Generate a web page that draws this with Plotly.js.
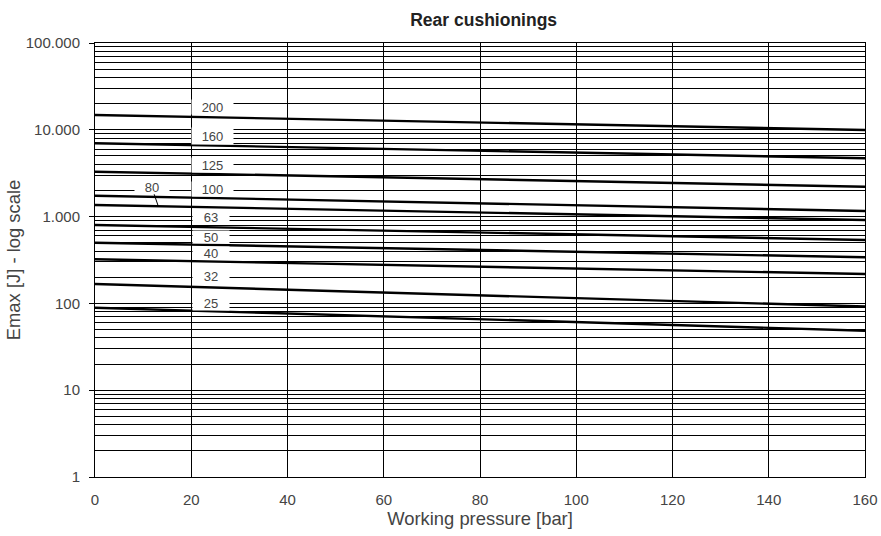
<!DOCTYPE html>
<html><head><meta charset="utf-8">
<script src="https://cdn.plot.ly/plotly-3.0.1.min.js"></script>
<style>html,body{margin:0;padding:0;background:#fff}#c{width:881px;height:536px}</style>
</head><body><div id="c"></div>
<script>
// Data
const pressure = [0, 160];
const seriesNames = ["200","160","125","100","80","63","50","40","32","25"];
const e200 = [14800, 9950];
const e160 = [7000, 4700];
const e125 = [3290, 2210];
const e100 = [1740, 1160];
const e80  = [1360, 914];
const e63  = [800, 537];
const e50  = [500, 340];
const e40  = [322, 218];
const e32  = [167, 92];
const e25  = [89, 48.5];
const seriesValues = [e200,e160,e125,e100,e80,e63,e50,e40,e32,e25];
const xTicks = [0,20,40,60,80,100,120,140,160];
const yTickVals = [1,10,100,1000,10000,100000];
const yTickText = ["1","10","100","1.000","10.000","100.000"];

const traces = seriesValues.map((v,i)=>({
  x: pressure, y: v, type:'scatter', mode:'lines', name: seriesNames[i],
  line:{color:'#000', width:2.4}, hoverinfo:'skip'
}));

// minor gridline positions (2..9 per decade)
const minorVals = [];
for (let d=0; d<5; d++) for (let k=2; k<=9; k++) minorVals.push(k*Math.pow(10,d));

// label placement (log10 y for annotations on log axis): [x, log10(y), boxWidth, boxHeight]
const labelPos = {
  "200":[24.5,4.266,41,14], "160":[24.5,3.929,41,16], "125":[24.5,3.594,41,14], "100":[24.5,3.318,41,14],
  "63":[24.0,2.992,36,13], "50":[24.0,2.768,36,12], "40":[24.0,2.577,36,12], "32":[24.0,2.316,36,14], "25":[24.0,2.008,36,14]
};
const annFont = {family:'Liberation Sans, Arial, sans-serif', size:13, color:'#444'};
const annotations = [];
seriesNames.forEach(n=>{
  const p = labelPos[n];
  if (!p) return;
  annotations.push({x:p[0], y:p[1], xref:'x', yref:'y', text:n,
    showarrow:false, bgcolor:'#fff', width:p[2], height:p[3], borderpad:0, font:annFont});
});
// "80" label with leader line pointing to its curve
const i80 = seriesNames.indexOf("80");
const xa = 13.15;
const v80 = seriesValues[i80];
const ya = Math.log10(v80[0]) + (Math.log10(v80[1])-Math.log10(v80[0]))*(xa-pressure[0])/(pressure[1]-pressure[0]);
annotations.push({x:xa, y:ya, xref:'x', yref:'y', text:"80", showarrow:true, arrowhead:0,
  arrowwidth:1, arrowcolor:'#000', ax:-6.5, ay:-19, standoff:0, startstandoff:0,
  bgcolor:'#fff', width:34, height:13, borderpad:0, font:annFont});

const layout = {
  width:881, height:536,
  margin:{l:95, r:16, t:43, b:59},
  paper_bgcolor:'#fff', plot_bgcolor:'#fff',
  showlegend:false,
  font:{family:'Liberation Sans, Arial, sans-serif', color:'#444'},
  title:{text:'<b>Rear cushionings</b>', x:0.549, xanchor:'center', y:0.962, yanchor:'middle',
    font:{size:17.5, color:'#222', family:'Liberation Sans, Arial, sans-serif'}},
  xaxis:{range:[0,160], tickmode:'array', tickvals:xTicks, ticktext:xTicks.map(String),
    showgrid:true, gridcolor:'#000', gridwidth:1, zeroline:false,
    showline:true, linecolor:'#000', linewidth:1, mirror:true, ticks:'',
    ticklabelstandoff:9,
    tickfont:{size:15, color:'#444'},
    title:{text:'Working pressure [bar]', font:{size:18.4, color:'#444'}, standoff:3}},
  yaxis:{type:'log', range:[0,5], tickmode:'array', tickvals:yTickVals, ticktext:yTickText,
    showgrid:true, gridcolor:'#000', gridwidth:1, zeroline:false,
    showline:true, linecolor:'#000', linewidth:1, mirror:true,
    ticks:'outside', ticklen:5, tickcolor:'#000', tickwidth:1,
    ticklabelstandoff:6,
    tickfont:{size:15, color:'#444'},
    minor:{tickmode:'array', tickvals:minorVals, showgrid:true, gridcolor:'#000', gridwidth:1, ticks:''},
    title:{text:'Emax [J] - log scale', font:{size:18.4, color:'#444'}, standoff:0}},
  annotations: annotations
};
Plotly.newPlot('c', traces, layout, {staticPlot:true, displayModeBar:false});
</script></body></html>
